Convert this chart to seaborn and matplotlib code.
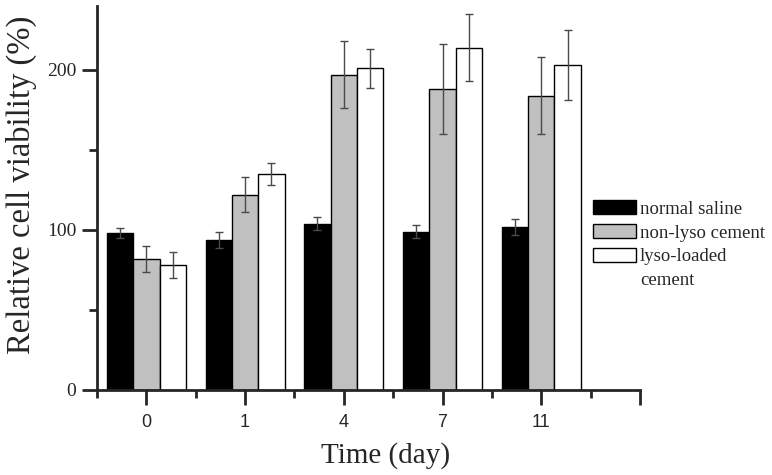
import numpy as np
import pandas as pd
import matplotlib
matplotlib.use("Agg")
import matplotlib.pyplot as plt
import seaborn as sns

days = ["0", "1", "4", "7", "11"]
groups = ["normal saline", "non-lyso cement", "lyso-loaded cement"]
legend_labels = ["normal saline", "non-lyso cement", "lyso-loaded"]
legend_extra = "cement"
normal_saline = [98, 94, 104, 99, 102]
non_lyso = [82, 122, 197, 188, 184]
lyso_loaded = [78, 135, 201, 214, 203]
err_normal = [3, 5, 4, 4, 5]
err_non_lyso = [8, 11, 21, 28, 24]
err_lyso = [8, 7, 12, 21, 22]

values = [normal_saline, non_lyso, lyso_loaded]
errors = [err_normal, err_non_lyso, err_lyso]
rows = []
for g, vals, errs in zip(groups, values, errors):
    for d, v, e in zip(days, vals, errs):
        rows.append({"day": d, "group": g, "value": v, "err": e})
df = pd.DataFrame(rows)

sns.set_style("ticks")
plt.rcParams["font.family"] = ["Liberation Serif", "DejaVu Serif"]

fig = plt.figure(figsize=(7.72, 4.75), dpi=100)
ax = fig.add_axes([97 / 772, 1 - 390 / 475, 543 / 772, 384 / 475])

palette = {groups[0]: "#000000", groups[1]: "#c0c0c0", groups[2]: "#ffffff"}
sns.barplot(data=df, x="day", y="value", hue="group", order=days,
            hue_order=groups, palette=palette, errorbar=None,
            edgecolor="black", linewidth=1.0, saturation=1, ax=ax, width=0.8)

for cont, g in zip(ax.containers, groups):
    sub = df[df["group"] == g].set_index("day").loc[days]
    xs = [p.get_x() + p.get_width() / 2 for p in cont.patches]
    ax.errorbar(xs, sub["value"].values, yerr=sub["err"].values, fmt="none",
                ecolor="#4a4a4a", elinewidth=1.0, capsize=3.2, capthick=1.0,
                zorder=5)

ax.set_xlim(-0.5, 5.0)
ax.set_ylim(0, 240)
sns.despine(ax=ax)
for s in ["left", "bottom"]:
    ax.spines[s].set_linewidth(2.0)

ax.set_yticks([0, 100, 200])
ax.set_yticks([50, 150], minor=True)
ax.set_xticks([0, 1, 2, 3, 4, 5])
ax.set_xticklabels(days + [""])
ax.set_xticks([-0.5, 0.5, 1.5, 2.5, 3.5, 4.5], minor=True)
ax.tick_params(axis="y", which="major", length=11, width=2.0, direction="out",
               labelsize=14, pad=4)
ax.tick_params(axis="y", which="minor", length=6, width=2.0, direction="out")
ax.tick_params(axis="x", which="major", length=11, width=2.0, direction="out",
               labelsize=13, pad=6)
ax.tick_params(axis="x", which="minor", length=6, width=2.0, direction="out")
for lab in ax.get_xticklabels():
    lab.set_fontfamily(["Liberation Sans", "DejaVu Sans"])

ax.set_xlabel("Time (day)", fontsize=21)
ax.xaxis.set_label_coords((386 - 97) / 543, -0.135)
ax.set_ylabel("Relative cell viability (%)", fontsize=23.5)
ax.yaxis.set_label_coords((37 - 97) / 543, (390 - 185) / 384)

handles, _ = ax.get_legend_handles_labels()
leg = ax.legend(handles, legend_labels, loc="upper left",
                bbox_to_anchor=(593 / 772, 1 - 200 / 475),
                bbox_transform=fig.transFigure, frameon=False, fontsize=13.5,
                borderpad=0, borderaxespad=0, handlelength=2.3,
                handleheight=0.8, handletextpad=0.2, labelspacing=0.33)

fig.canvas.draw()
renderer = fig.canvas.get_renderer()
t3 = leg.get_texts()[2]
t2 = leg.get_texts()[1]
b3 = t3.get_window_extent(renderer)
b2 = t2.get_window_extent(renderer)
step = b2.y0 - b3.y0
inv = fig.transFigure.inverted()
x0, y0 = inv.transform((b3.x0, b3.y0 - step))
fig.text(x0, y0, legend_extra, fontsize=13.5, ha="left", va="bottom")

fig.savefig("out.png", dpi=100)
